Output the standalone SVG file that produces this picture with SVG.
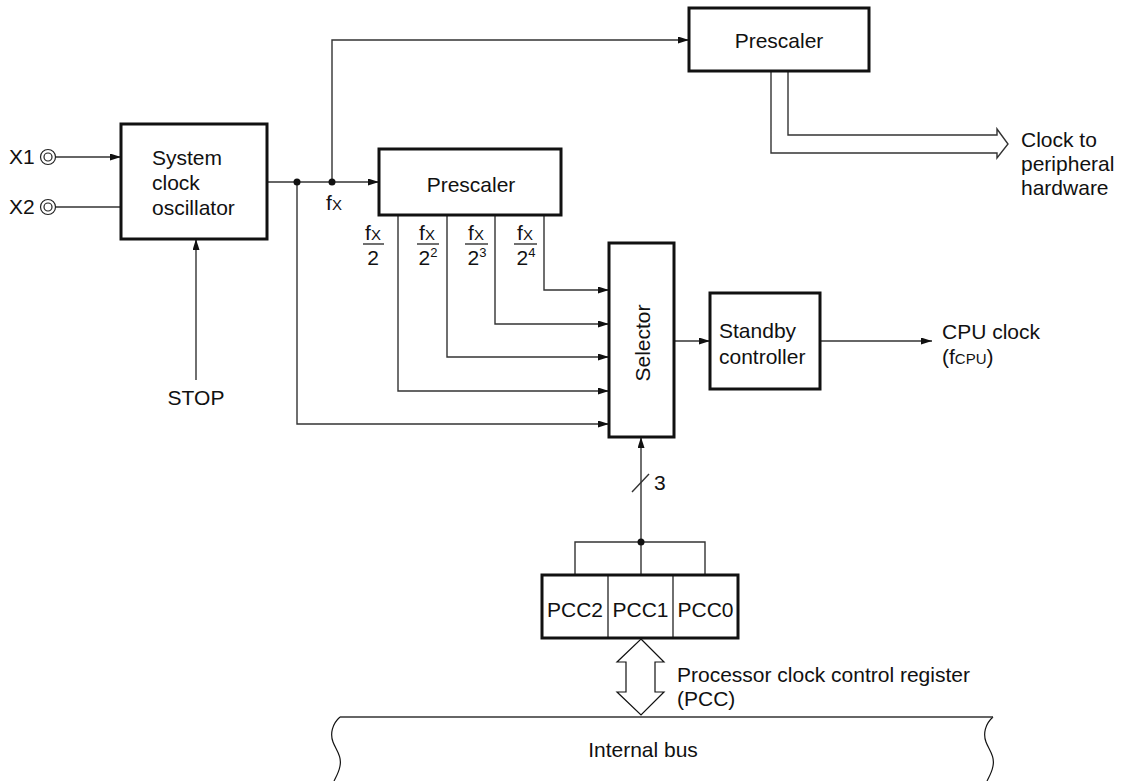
<svg xmlns="http://www.w3.org/2000/svg" width="1127" height="781" viewBox="0 0 1127 781">
<style>
text{font-family:"Liberation Sans",Arial,sans-serif;font-size:21px;fill:#111}
.box{fill:#fff;stroke:#111;stroke-width:3}
.ln{fill:none;stroke:#333;stroke-width:1.4}
.thin{fill:none;stroke:#111;stroke-width:1.2}
.dot{fill:#111}
.mid{text-anchor:middle}
.sm{font-size:15px}
.sup{font-size:13px}
.pin{fill:#fff;stroke:#222;stroke-width:1.2}
</style>
<defs>
<marker id="ah" markerUnits="userSpaceOnUse" markerWidth="12" markerHeight="8" refX="11" refY="3.5" orient="auto">
<path d="M0,0 L11,3.5 L0,7 z" fill="#111"/>
</marker>
</defs>
<g id="connectors">
<path class="ln" d="M56,157 H121" marker-end="url(#ah)"/>
<path class="ln" d="M56,207 H121"/>
<path class="ln" d="M267,182 H379" marker-end="url(#ah)"/>
<path class="ln" d="M332,182 V40 H689" marker-end="url(#ah)"/>
<path class="ln" d="M297,182 V424 H609" marker-end="url(#ah)"/>
<path class="ln" d="M398,215 V391 H609" marker-end="url(#ah)"/>
<path class="ln" d="M447,215 V357 H609" marker-end="url(#ah)"/>
<path class="ln" d="M495,215 V324 H609" marker-end="url(#ah)"/>
<path class="ln" d="M544,215 V290 H609" marker-end="url(#ah)"/>
<path class="ln" d="M196,380 V239" marker-end="url(#ah)"/>
<path class="ln" d="M674,341 H710" marker-end="url(#ah)"/>
<path class="ln" d="M820,341 H932" marker-end="url(#ah)"/>
<path class="ln" d="M641,575 V437" marker-end="url(#ah)"/>
<path class="ln" d="M632,492 L649,474"/>
<path class="ln" d="M575,575 V542 H705 V575"/>
<path class="ln" d="M771,71 V153 H997 V158 L1008,144 L997,129 V135 H788 V71"/>
<path class="thin" d="M641,639 L664,662 L655,662 L655,692 L664,692 L641,715 L617,692 L626,692 L626,662 L617,662 Z"/>
<circle class="dot" cx="297" cy="182" r="3.5"/>
<circle class="dot" cx="332" cy="182" r="3.5"/>
<circle class="dot" cx="641" cy="542" r="3.5"/>
</g>
<g id="x1">
<circle class="pin" cx="48" cy="157" r="7.5"/>
<circle class="pin" cx="48" cy="157" r="4"/>
<text x="9" y="164">X1</text>
</g>
<g id="x2">
<circle class="pin" cx="48" cy="207" r="7.5"/>
<circle class="pin" cx="48" cy="207" r="4"/>
<text x="9" y="214">X2</text>
</g>
<g id="oscillator">
<rect class="box" x="121" y="124" width="146" height="115"/>
<text x="152" y="165">System</text>
<text x="152" y="190">clock</text>
<text x="152" y="215">oscillator</text>
</g>
<g id="stop"><text class="mid" x="196" y="405">STOP</text></g>
<g id="fx-label"><text class="mid" x="334" y="210">f<tspan class="sm">X</tspan></text></g>
<g id="prescaler-top">
<rect class="box" x="689" y="8" width="180" height="63"/>
<text class="mid" x="779" y="48">Prescaler</text>
</g>
<g id="clock-peripheral">
<text x="1021" y="147">Clock to</text>
<text x="1021" y="171">peripheral</text>
<text x="1021" y="195">hardware</text>
</g>
<g id="prescaler">
<rect class="box" x="379" y="149" width="182" height="66"/>
<text class="mid" x="471" y="192">Prescaler</text>
</g>
<g id="fractions">
<text class="mid" x="373" y="240">f<tspan class="sm">X</tspan></text>
<path class="thin" d="M363,244 H384"/>
<text class="mid" x="373" y="265">2</text>
<text class="mid" x="427" y="240">f<tspan class="sm">X</tspan></text>
<path class="thin" d="M417,244 H439"/>
<text class="mid" x="428" y="265">2<tspan class="sup" dy="-8">2</tspan></text>
<text class="mid" x="476" y="240">f<tspan class="sm">X</tspan></text>
<path class="thin" d="M465,244 H488"/>
<text class="mid" x="477" y="265">2<tspan class="sup" dy="-8">3</tspan></text>
<text class="mid" x="525" y="240">f<tspan class="sm">X</tspan></text>
<path class="thin" d="M514,244 H537"/>
<text class="mid" x="526" y="265">2<tspan class="sup" dy="-8">4</tspan></text>
</g>
<g id="selector">
<rect class="box" x="609" y="243" width="65" height="194"/>
<text class="mid" transform="translate(650,343) rotate(-90)">Selector</text>
</g>
<g id="standby">
<rect class="box" x="710" y="293" width="110" height="96"/>
<text x="719" y="338">Standby</text>
<text x="719" y="364">controller</text>
</g>
<g id="cpu-clock">
<text x="942" y="339">CPU clock</text>
<text x="942" y="364">(f<tspan class="sm">CPU</tspan>)</text>
</g>
<g id="bits"><text x="654" y="490">3</text></g>
<g id="pcc">
<rect class="box" x="542" y="575" width="196" height="63"/>
<path class="thin" d="M608,575 V638 M673,575 V638"/>
<text class="mid" x="575" y="617">PCC2</text>
<text class="mid" x="640.5" y="617">PCC1</text>
<text class="mid" x="705.5" y="617">PCC0</text>
</g>
<g id="pcc-label">
<text x="677" y="682">Processor clock control register</text>
<text x="677" y="706">(PCC)</text>
</g>
<g id="internal-bus">
<path class="thin" d="M340,717 C332,724 330,734 333,742 C336,750 342,756 340,766 C339,772 336,777 334,781"/>
<path class="thin" d="M993,717 C985,724 983,734 986,742 C989,750 995,756 993,766 C992,772 989,777 987,781"/>
<path class="ln" d="M340,717 H993"/>
<text class="mid" x="643" y="757">Internal bus</text>
</g>
</svg>
